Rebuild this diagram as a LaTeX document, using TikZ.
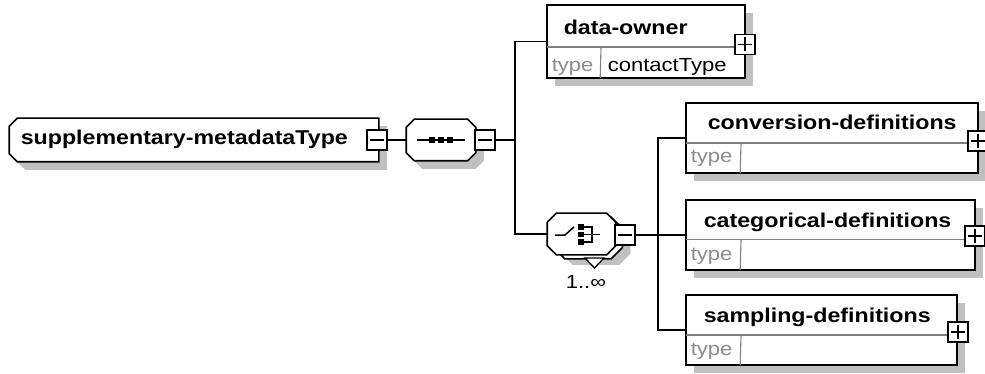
\documentclass[tikz,border=0pt]{standalone}
\usepackage{fontspec}
\setmainfont{Liberation Sans}[FakeStretch=1.16]
\usetikzlibrary{shadows,calc}
\definecolor{shadowgray}{HTML}{C0C0C0}
\definecolor{typegray}{HTML}{8C8C8C}
\definecolor{divgray}{HTML}{808080}
% #1 node name, #2 left chamfer, #3 right chamfer, #4 dx, #5 dy, #6 path options
\newcommand\octoutline[6]{%
 \path[#6] ($(#1.north west)+(#2+#4,#5)$) -- ($(#1.north east)+(-#3+#4,#5)$) -- ($(#1.north east)+(#4,#3+#5)$) -- ($(#1.south east)+(#4,-#3+#5)$) -- ($(#1.south east)+(-#3+#4,#5)$) -- ($(#1.south west)+(#2+#4,#5)$) -- ($(#1.south west)+(#4,-#2+#5)$) -- ($(#1.north west)+(#4,#2+#5)$) -- cycle;}
\begin{document}
\begin{tikzpicture}[x=1pt,y=-1pt,line width=1.6pt,
  shad/.style={drop shadow={shadow xshift=8pt,shadow yshift=-8pt,fill=shadowgray,opacity=1}},
  elembox/.style={draw=black,fill=white,rectangle,inner sep=0pt,line width=1.6pt,shad},
  anchorbox/.style={draw=none,rectangle,inner sep=0pt},
  octline/.style={draw=black,fill=white,line width=1.6pt},
  octshadow/.style={fill=shadowgray,draw=none},
  titletext/.style={anchor=base west,inner sep=0pt,font=\fontsize{20}{24}\selectfont\bfseries},
  typetext/.style={anchor=base west,inner sep=0pt,text=typegray,font=\fontsize{19}{22}\selectfont},
  valtext/.style={anchor=base west,inner sep=0pt,font=\fontsize{19}{22}\selectfont},
  divider/.style={draw=divgray,line width=1.1pt},
  pmbox/.style={draw=black,fill=white,rectangle,minimum width=20pt,minimum height=20pt,inner sep=0pt,line width=1.5pt},
  minusbox/.style={pmbox,path picture={\draw[line width=1.5pt] ($(path picture bounding box.west)+(3pt,0)$) -- ($(path picture bounding box.east)+(-3pt,0)$);}},
  plusbox/.style={pmbox,path picture={\draw[line width=1.5pt] ($(path picture bounding box.west)+(3pt,0)$) -- ($(path picture bounding box.east)+(-3pt,0)$);
     \draw[line width=1.5pt] ($(path picture bounding box.north)+(0,-3pt)$) -- ($(path picture bounding box.south)+(0,3pt)$);}},
  conn/.style={draw=black,line width=1.6pt},
  dot/.style={fill=black,draw=none,rectangle,minimum width=5.5pt,minimum height=5.5pt,inner sep=0pt}
]
\useasboundingbox[fill=white] (0,0) rectangle (985,374);

% root
\node[anchorbox,minimum width=368pt,minimum height=42pt] (root) at (194,140) {};
\octoutline{root}{8}{0}{8}{8}{octshadow}
\octoutline{root}{8}{0}{0}{0}{octline}
\node[titletext] (rootT) at (20,145) {supplementary-metadataType};
\node[minusbox] (rootM) at (377,140) {};

% sequence
\node[anchorbox,minimum width=68pt,minimum height=40pt] (seq) at (441,140) {};
\octoutline{seq}{8}{8}{8}{8}{octshadow}
\octoutline{seq}{8}{8}{0}{0}{octline}
\node[minusbox] (seqM) at (485,140) {};
\draw[line width=1.5pt] (417,140) -- (465,140);
\node[dot] (sd1) at (432,140) {};
\node[dot] (sd2) at (441,140) {};
\node[dot] (sd3) at (450,140) {};

% choice
\node[anchorbox,minimum width=67pt,minimum height=40pt] (choiceB) at (588,238) {};
\octoutline{choiceB}{11}{11}{8}{6}{octshadow}
\octoutline{choiceB}{11}{11}{0}{0}{octline}
\draw[fill=white,line width=1.3pt] (585,258) -- (604,258) -- (594.5,268) -- cycle;
\node[anchorbox,minimum width=67pt,minimum height=40pt] (choice) at (581.5,234) {};
\octoutline{choice}{9}{9}{0}{0}{octline}
\node[minusbox] (choiceM) at (625,235) {};
\draw[line width=1.5pt] (555,235) -- (565,235) -- (574,227);
\node[dot] (cd1) at (581,227) {};
\node[dot] (cd2) at (581,234.5) {};
\node[dot] (cd3) at (581,242) {};
\draw[line width=1.5pt] (583,227) -- (592,227) -- (592,242) -- (583,242);
\draw[line width=1.5pt] (583,234.5) -- (600,234.5);
\node[valtext] (occ) at (565,288) {1..∞};

% data-owner
\node[elembox,minimum width=198pt,minimum height=73pt] (dataowner) at (646,41.5) {};
\draw[divider] ($(dataowner.west)+(0.8,5.5)$) -- ($(dataowner.east)+(-0.8,5.5)$);
\draw[divider] (601,47) -- ($(dataowner.south west)+(54,-0.8)$);
\node[titletext] (dataownerT) at (563,35) {data-owner};
\node[typetext] (dataownerTy) at (551,72) {type};
\node[valtext] (dataownerV) at (607,72) {contactType};
\node[plusbox] (dataownerP) at ($(dataowner.east)+(-1,3)$) {};

% conversion-definitions
\node[elembox,minimum width=292pt,minimum height=70pt] (conv) at (832,138) {};
\draw[divider] ($(conv.west)+(0.8,5)$) -- ($(conv.east)+(-0.8,5)$);
\draw[divider] (741,143) -- ($(conv.south west)+(55,-0.8)$);
\node[titletext] (convT) at (707,130) {conversion-definitions};
\node[typetext] (convTy) at (690,163) {type};
\node[plusbox] (convP) at ($(conv.east)+(-1,3)$) {};

% categorical-definitions
\node[elembox,minimum width=289pt,minimum height=70pt] (cat) at (830.5,235) {};
\draw[divider] ($(cat.west)+(0.8,4.5)$) -- ($(cat.east)+(-0.8,4.5)$);
\draw[divider] (741,239.5) -- ($(cat.south west)+(55,-0.8)$);
\node[titletext] (catT) at (703,227) {categorical-definitions};
\node[typetext] (catTy) at (690,260) {type};
\node[plusbox] (catP) at ($(cat.east)+(-1,1)$) {};

% sampling-definitions
\node[elembox,minimum width=271pt,minimum height=70pt] (samp) at (821.5,330) {};
\draw[divider] ($(samp.west)+(0.8,5)$) -- ($(samp.east)+(-0.8,5)$);
\draw[divider] (741,335) -- ($(samp.south west)+(55,-0.8)$);
\node[titletext] (sampT) at (703,322) {sampling-definitions};
\node[typetext] (sampTy) at (690,355) {type};
\node[plusbox] (sampP) at ($(samp.east)+(0,2)$) {};

% connectors
\coordinate (j1) at (515,140);
\coordinate (j2) at (658,235);
\draw[conn] (rootM.east) -- (seq.west);
\draw[conn] (seqM.east) -- (j1);
\draw[conn] (dataowner.west) -| (j1) |- (choice.west);
\draw[conn] (choiceM.east) -- (j2);
\draw[conn] (conv.west) -| (j2) |- (samp.west);
\draw[conn] (j2) -- (cat.west);
\end{tikzpicture}
\end{document}
